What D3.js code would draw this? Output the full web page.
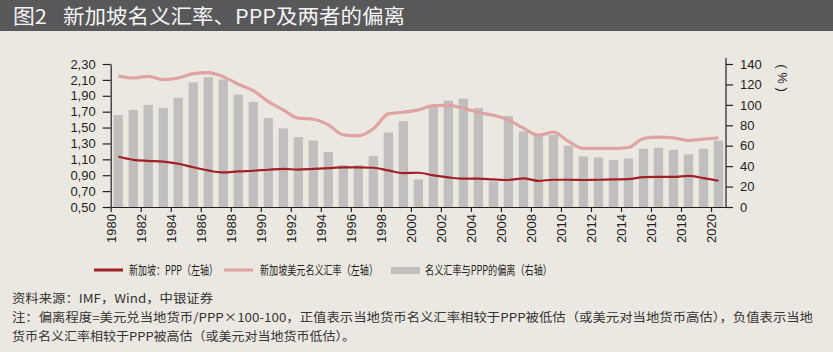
<!DOCTYPE html>
<html>
<head>
<meta charset="utf-8">
<script src="https://cdn.jsdelivr.net/npm/d3@7"></script>
<style>
  body { margin: 0; background: #ebe8e2; }
  svg { display: block; }
</style>
</head>
<body>
<svg id="chart" width="833" height="352"></svg>
<script>
// DATA
const years = d3.range(1980, 2021);
const pppValues = [1.136, 1.094, 1.08, 1.07, 1.044, 1.0, 0.96, 0.935, 0.948, 0.956,
  0.969, 0.98, 0.97, 0.98, 0.99, 0.998, 0.998, 0.994, 0.96, 0.927,
  0.931, 0.898, 0.873, 0.856, 0.856, 0.847, 0.84, 0.86, 0.83, 0.843,
  0.843, 0.84, 0.843, 0.847, 0.85, 0.877, 0.88, 0.88, 0.893, 0.864, 0.83];
const fxValues = [2.149, 2.124, 2.145, 2.103, 2.124, 2.179, 2.191, 2.141, 2.045, 1.965,
  1.827, 1.722, 1.618, 1.605, 1.534, 1.408, 1.396, 1.484, 1.672, 1.693,
  1.722, 1.777, 1.781, 1.743, 1.689, 1.655, 1.597, 1.492, 1.404, 1.442,
  1.325, 1.237, 1.237, 1.237, 1.249, 1.362, 1.379, 1.371, 1.337, 1.354, 1.371];
const deviation = [90, 95, 100, 97, 107, 122, 127, 125, 110, 103,
  87, 77, 68.5, 65, 54, 41, 41, 50, 73, 84,
  27, 99, 104, 106, 97, 25, 89, 74, 70, 70.5,
  60, 49.5, 48.5, 46, 47.5, 57, 58, 56, 51.5, 57, 65];
const leftTicks = [0.5, 0.7, 0.9, 1.1, 1.3, 1.5, 1.7, 1.9, 2.1, 2.3];
const rightTicks = [0, 20, 40, 60, 80, 100, 120, 140];
const xTickYears = d3.range(1980, 2021, 2);
const legendLabels = ["新加坡：PPP（左轴）", "新加坡美元名义汇率（左轴）", "名义汇率与PPP的偏离（右轴）"];
const titleNo = "图2";
const titleText = "新加坡名义汇率、PPP及两者的偏离";
const unitText = "( % )";
const sourceText = "资料来源：IMF，Wind，中银证券";
const noteLines = [
  "注：偏离程度=美元兑当地货币/PPP×100-100，正值表示当地货币名义汇率相较于PPP被低估（或美元对当地货币高估），负值表示当地",
  "货币名义汇率相较于PPP被高估（或美元对当地货币低估）。"
];

// CONSTANTS
const W = 833, H = 352;
const x0 = 110.7, x1 = 726;
const yTop = 64, yBot = 207;
const latin = "'Liberation Sans', Arial, sans-serif";
const cjk = "'Noto Sans CJK SC', sans-serif";
const ink = "#231f20";
const pppColor = "#a21f26";
const fxColor = "#dfa3a2";
const barColor = "#c0bfbd";

const svg = d3.select("#chart");

// background + title bar
svg.append("rect").attr("width", W).attr("height", H).attr("fill", "#ebe8e2");
svg.append("rect").attr("width", W).attr("height", 31).attr("fill", "#58585a");
svg.append("text").attr("x", 13).attr("y", 24)
  .attr("font-family", cjk).attr("font-size", 20).attr("fill", "#f4f4f4")
  .attr("textLength", 34).attr("lengthAdjust", "spacingAndGlyphs")
  .text(titleNo);
svg.append("text").attr("x", 63).attr("y", 24)
  .attr("font-family", cjk).attr("font-size", 20).attr("fill", "#f4f4f4")
  .attr("textLength", 342).attr("lengthAdjust", "spacingAndGlyphs")
  .text(titleText);

// SCALES
const xBand = d3.scaleBand().domain(years).range([x0, x1])
  .paddingInner(0.38).paddingOuter(0.19);
const xTick = d3.scaleLinear().domain([1980, 2021]).range([x0, x1]);
const xMid = y => xTick(y) + (x1 - x0) / 41 / 2;
const yLeft = d3.scaleLinear().domain([0.5, 2.3]).range([yBot, yTop]);
const yRight = d3.scaleLinear().domain([0, 140]).range([yBot, yTop]);

// BARS
svg.append("g").selectAll("rect")
  .data(deviation)
  .enter()
  .append("rect")
  .attr("x", (d, i) => xBand(years[i]))
  .attr("width", xBand.bandwidth())
  .attr("y", d => yRight(d))
  .attr("height", d => yBot - yRight(d))
  .attr("fill", barColor);

// LINES
const line = d3.line()
  .x((d, i) => xMid(years[i]))
  .curve(d3.curveMonotoneX);
svg.append("path").datum(fxValues)
  .attr("d", line.y(d => yLeft(d)))
  .attr("fill", "none").attr("stroke", fxColor).attr("stroke-width", 3.2);
svg.append("path").datum(pppValues)
  .attr("d", line.y(d => yLeft(d)))
  .attr("fill", "none").attr("stroke", pppColor).attr("stroke-width", 2.2);

// AXES
const fmtComma = d => d.toFixed(2).replace(".", ",");
const leftAxis = svg.append("g")
  .attr("transform", `translate(${x0},0)`)
  .call(d3.axisLeft(yLeft).tickValues(leftTicks).tickFormat(fmtComma)
    .tickSize(8).tickSizeOuter(0).tickPadding(7));
const rightAxis = svg.append("g")
  .attr("transform", `translate(${x1},0)`)
  .call(d3.axisRight(yRight).tickValues(rightTicks)
    .tickSize(7).tickSizeOuter(0).tickPadding(7));
rightAxis.select(".domain").attr("d", `M0,58V${yBot}`);
const bottomAxis = svg.append("g")
  .attr("transform", `translate(0,${yBot})`)
  .call(d3.axisBottom(xTick).tickValues(xTickYears).tickFormat(d3.format("d"))
    .tickSize(5).tickSizeOuter(0));
bottomAxis.selectAll("text")
  .attr("transform", "rotate(-90)")
  .attr("text-anchor", "end")
  .attr("x", -7).attr("y", 0).attr("dy", "0.35em");

[leftAxis, rightAxis, bottomAxis].forEach(g => {
  g.selectAll("path, line").attr("stroke", ink).attr("stroke-width", 1.2);
  g.selectAll("text").attr("font-family", latin).attr("font-size", 13).attr("fill", ink);
});

// unit label
svg.append("text")
  .attr("transform", "translate(783,78) rotate(90)")
  .attr("text-anchor", "middle").attr("dy", "0.35em")
  .attr("font-family", latin).attr("font-size", 13).attr("fill", ink)
  .text(unitText);

// LEGEND
const legend = svg.append("g").attr("font-family", cjk).attr("font-size", 12.5).attr("fill", ink);
legend.append("line").attr("x1", 94).attr("x2", 123).attr("y1", 270).attr("y2", 270)
  .attr("stroke", pppColor).attr("stroke-width", 3);
legend.append("line").attr("x1", 224).attr("x2", 253).attr("y1", 270).attr("y2", 270)
  .attr("stroke", fxColor).attr("stroke-width", 3);
legend.append("rect").attr("x", 391).attr("y", 267).attr("width", 29).attr("height", 7)
  .attr("fill", barColor);
const legendPos = [[129, 89], [260, 118], [425, 127]];
legendPos.forEach(([lx, len], i) => {
  legend.append("text").attr("x", lx).attr("y", 274.5)
    .attr("textLength", len).attr("lengthAdjust", "spacingAndGlyphs")
    .text(legendLabels[i]);
});

// FOOTNOTES
const foot = svg.append("g").attr("font-family", cjk).attr("font-size", 12).attr("fill", "#333");
foot.append("text").attr("x", 12).attr("y", 303)
  .attr("textLength", 201).attr("lengthAdjust", "spacingAndGlyphs")
  .text(sourceText);
foot.append("text").attr("x", 12).attr("y", 322)
  .attr("textLength", 801).attr("lengthAdjust", "spacingAndGlyphs")
  .text(noteLines[0]);
foot.append("text").attr("x", 12).attr("y", 341)
  .attr("textLength", 343).attr("lengthAdjust", "spacingAndGlyphs")
  .text(noteLines[1]);
</script>
</body>
</html>
